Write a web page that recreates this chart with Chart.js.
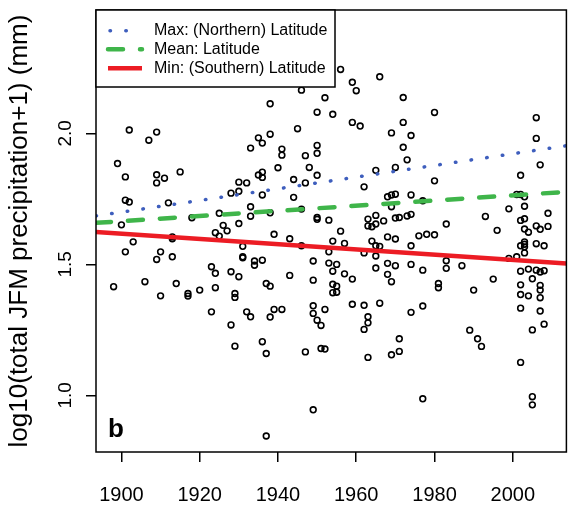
<!DOCTYPE html>
<html>
<head>
<meta charset="utf-8">
<script src="https://cdn.jsdelivr.net/npm/chart.js@4.4.1/dist/chart.umd.min.js"></script>
<style>
  html, body { margin: 0; padding: 0; background: #fff; }
  canvas { display: block; }
</style>
</head>
<body>
<canvas id="mainChart" width="572" height="506"></canvas>
<script>
// yearly station values
var years = [
  1902, 1907, 1909, 1933, 1899, 1901, 1909, 1909, 1911, 1915, 1930, 1932, 1928, 1930, 1901, 1902,
  1912, 1933, 1933, 1918, 1925, 1900, 1930, 1926, 1927, 1924, 1925, 1913, 1913, 1903, 1931,
  1901, 1910, 1909, 1913, 1931, 1931, 1923, 1924, 1928, 1930, 1898, 1906, 1914, 1910, 1917, 1917,
  1920, 1924, 1929, 1929, 1923, 1932, 1933, 1928, 1929,
  1956, 1966, 1959, 1960, 1946, 1952, 1972, 1938, 1950, 1954, 1959, 1961, 1972, 1945, 1969, 1938,
  1935, 1936, 1941, 1941, 1950, 1950, 1947, 1972, 1973, 1940, 1948, 1936, 1936, 1935, 1950, 1965,
  1970, 1944, 1947, 1962, 1936, 1944, 1968, 1969, 1970, 1969, 1938, 1946, 1950, 1950, 1953, 1963,
  1965, 1963, 1964, 1965, 1967, 1970, 1971, 1973, 1939, 1943, 1946, 1956, 1954, 1957, 1964, 1968,
  1970, 1965, 1966,
  1953, 1962, 1965, 1934, 1934, 1936, 1949, 1953, 1955, 1954, 1968, 1970, 1965, 1957, 1959, 1943,
  1949, 1968, 1969, 1937, 1938, 1954, 1955, 1954, 1955, 1959, 1962, 1966, 1949, 1949, 1950, 1951,
  1952, 1939, 1941, 1938, 1963, 1963, 1962, 1936, 1937, 1947, 1951, 1952, 1963, 1971, 1971, 1969,
  1949, 1937,
  1980, 1974, 2006, 2006, 2007, 1980, 2002, 1974, 1977, 2001, 2002, 2003, 2003, 1999, 1993, 2009,
  1974, 1983, 1996, 2002, 2003, 2003, 2004, 2006, 2007, 2009, 1976, 1978, 1980, 1974, 2002, 2003,
  2003, 2006, 2008,
  2003, 2003, 1999, 2001, 1974, 1977, 1983, 1983, 1987, 1981, 1981, 1990, 1995, 2002, 2004, 2006,
  2007, 2008, 2005, 2002, 2007, 2007, 2002, 2004, 2007, 2002, 2007, 1977, 1974, 2008, 2005, 1989,
  1991, 1992, 2002, 1977, 2005, 2005
];
var precip = [
  2.013, 1.974, 2.005, 1.944, 1.885, 1.834, 1.842, 1.811, 1.829, 1.853, 1.814, 1.811, 1.772, 1.779, 1.745, 1.738,
  1.735, 1.720, 1.684, 1.678, 1.695, 1.651, 1.656, 1.649, 1.628, 1.621, 1.608, 1.605, 1.598, 1.586, 1.569,
  1.548, 1.548, 1.519, 1.529, 1.529, 1.525, 1.491, 1.466, 1.472, 1.453, 1.415, 1.434, 1.427, 1.380, 1.389, 1.379,
  1.402, 1.411, 1.389, 1.374, 1.319, 1.319, 1.300, 1.269, 1.188,
  2.244, 2.216, 2.195, 2.163, 2.165, 2.136, 2.137, 2.113, 2.081, 2.073, 2.042, 2.028, 2.042, 2.018, 2.002, 1.997,
  1.983, 1.963, 1.940, 1.917, 1.954, 1.924, 1.915, 1.947, 1.899, 1.869, 1.870, 1.852, 1.832, 1.841, 1.840, 1.859,
  1.870, 1.824, 1.811, 1.796, 1.765, 1.756, 1.758, 1.765, 1.768, 1.720, 1.697, 1.711, 1.679, 1.672, 1.669, 1.673,
  1.687, 1.647, 1.644, 1.654, 1.666, 1.677, 1.679, 1.685, 1.615, 1.598, 1.571, 1.627, 1.589, 1.580, 1.589, 1.605,
  1.597, 1.571, 1.569,
  1.548, 1.544, 1.532, 1.513, 1.497, 1.516, 1.513, 1.505, 1.500, 1.474, 1.504, 1.495, 1.486, 1.464, 1.444, 1.458,
  1.440, 1.462, 1.434, 1.427, 1.417, 1.424, 1.417, 1.392, 1.394, 1.348, 1.344, 1.352, 1.342, 1.313, 1.287, 1.267,
  1.328, 1.328, 1.328, 1.299, 1.300, 1.277, 1.252, 1.205, 1.160, 1.166, 1.179, 1.177, 1.145, 1.216, 1.168, 1.155,
  0.945, 0.845,
  2.080, 1.992, 2.060, 1.981, 1.880, 1.819, 1.840, 1.765, 1.743, 1.767, 1.767, 1.758, 1.722, 1.712, 1.683, 1.695,
  1.691, 1.654, 1.630, 1.668, 1.674, 1.635, 1.623, 1.647, 1.634, 1.645, 1.609, 1.615, 1.613, 1.571, 1.571, 1.586,
  1.577, 1.579, 1.571,
  1.567, 1.544, 1.523, 1.529, 1.500, 1.478, 1.514, 1.485, 1.495, 1.427, 1.411, 1.402, 1.444, 1.474, 1.482, 1.478,
  1.471, 1.476, 1.445, 1.422, 1.420, 1.402, 1.385, 1.380, 1.373, 1.333, 1.322, 1.341, 1.317, 1.272, 1.250, 1.249,
  1.216, 1.187, 1.126, 0.987, 0.995, 0.964
];

// fitted trend lines, value at each end of the x range
var trendYears = [1893.5, 2013.7];
var maxLat = [1.685, 1.953];
var meanLat = [1.6585, 1.777];
var minLat = [1.6235, 1.503];

var xTicks = [1900, 1920, 1940, 1960, 1980, 2000];
var yTicks = [1.0, 1.5, 2.0];
var yTickLabels = ["1.0", "1.5", "2.0"];
var legendLabels = ["Max: (Northern) Latitude", "Mean: Latitude", "Min: (Southern) Latitude"];
var yTitle = "log10(total JFM precipitation+1) (mm)";
var panelLabel = "b";

var FONT = "'Liberation Sans', Arial, Helvetica, sans-serif";

function pairs(xs, ys) {
    return xs.map(function (x, i) { return { x: x, y: ys[i] }; });
}

function trend(vals, color, width, dash) {
    return {
        data: pairs(trendYears, vals),
        showLine: true,
        borderColor: color,
        borderWidth: width,
        borderDash: dash,
        borderCapStyle: dash.length ? "round" : "butt",
        pointRadius: 0,
        fill: false,
    };
}

var trends = [
    trend(maxLat, "#3e5ebd", 3.5, [0.5, 15.3]),
    trend(meanLat, "#3fb54a", 4.5, [15, 17]),
    trend(minLat, "#ec1c24", 4.5, []),
];

var extras = {
    id: "extras",
    afterDraw: function (chart) {
        var c = chart.ctx, a = chart.chartArea, ys = chart.scales.y;
        c.save();
        // plot frame
        c.strokeStyle = "#000";
        c.lineWidth = 1.5;
        c.strokeRect(a.left, a.top, a.right - a.left, a.bottom - a.top);

        // y tick labels, parallel to the axis
        c.fillStyle = "#000";
        c.font = "19px " + FONT;
        c.textAlign = "center";
        c.textBaseline = "alphabetic";
        yTicks.forEach(function (v, i) {
            c.save();
            c.translate(71, ys.getPixelForValue(v));
            c.rotate(-Math.PI / 2);
            c.fillText(yTickLabels[i], 0, 0);
            c.restore();
        });

        // panel letter
        c.font = "bold 26px " + FONT;
        c.textAlign = "left";
        c.fillText(panelLabel, a.left + 12, a.bottom - 15);

        // legend box
        var lx = a.left, ly = a.top, lw = 239, lh = 77;
        c.fillStyle = "#fff";
        c.fillRect(lx, ly, lw, lh);
        c.strokeRect(lx, ly, lw, lh);
        c.font = "16px " + FONT;
        c.textBaseline = "middle";
        var rows = [20.7, 39.3, 58.3];
        trends.forEach(function (ds, i) {
            var y = ly + rows[i];
            c.save();
            c.strokeStyle = ds.borderColor;
            c.lineWidth = ds.borderWidth;
            c.setLineDash(ds.borderDash);
            c.lineCap = ds.borderCapStyle;
            c.beginPath();
            var x0 = i === 0 ? lx + 14 : lx + 12;
            var x1 = i === 0 ? lx + 38 : lx + 46;
            c.moveTo(x0, y);
            c.lineTo(x1, y);
            c.stroke();
            c.restore();
            c.fillStyle = "#000";
            c.fillText(legendLabels[i], lx + 58, y);
        });
        c.restore();
    }
};

var ctx = document.getElementById("mainChart").getContext("2d");
var myChart = new Chart(ctx, {
    type: "scatter",
    data: {
        datasets: trends.concat([
            {
                data: pairs(years, precip),
                showLine: false,
                pointStyle: "circle",
                pointRadius: 2.9,
                pointBorderWidth: 1.6,
                borderColor: "#000",
                backgroundColor: "rgba(0,0,0,0)",
                pointBackgroundColor: "rgba(0,0,0,0)",
                pointBorderColor: "#000",
            },
        ]),
    },
    options: {
        responsive: false,
        animation: false,
        devicePixelRatio: 1,
        layout: { padding: { left: 0, right: 1, top: 10, bottom: 0 } },
        plugins: {
            legend: { display: false },
            tooltip: { enabled: false },
        },
        scales: {
            x: {
                type: "linear",
                min: 1893.5,
                max: 2013.7,
                afterBuildTicks: function (s) { s.ticks = xTicks.map(function (v) { return { value: v }; }); },
                afterFit: function (s) { s.height = 54; },
                border: { display: false },
                grid: { drawOnChartArea: false, drawTicks: true, tickLength: 10, color: "#000", lineWidth: 1.5 },
                ticks: {
                    autoSkip: false,
                    color: "#000",
                    padding: 21,
                    maxRotation: 0,
                    font: { family: FONT, size: 20 },
                    callback: function (v) { return String(v); },
                },
            },
            y: {
                type: "linear",
                min: 0.784,
                max: 2.471,
                afterBuildTicks: function (s) { s.ticks = yTicks.map(function (v) { return { value: v }; }); },
                afterFit: function (s) { s.width = 96; },
                border: { display: false },
                grid: { drawOnChartArea: false, drawTicks: true, tickLength: 10, color: "#000", lineWidth: 1.5 },
                ticks: { display: false },
                title: {
                    display: true,
                    text: yTitle,
                    color: "#000",
                    font: { family: FONT, size: 26 },
                    padding: { top: 4, bottom: 4 },
                },
            },
        },
    },
    plugins: [extras],
});
</script>
</body>
</html>
